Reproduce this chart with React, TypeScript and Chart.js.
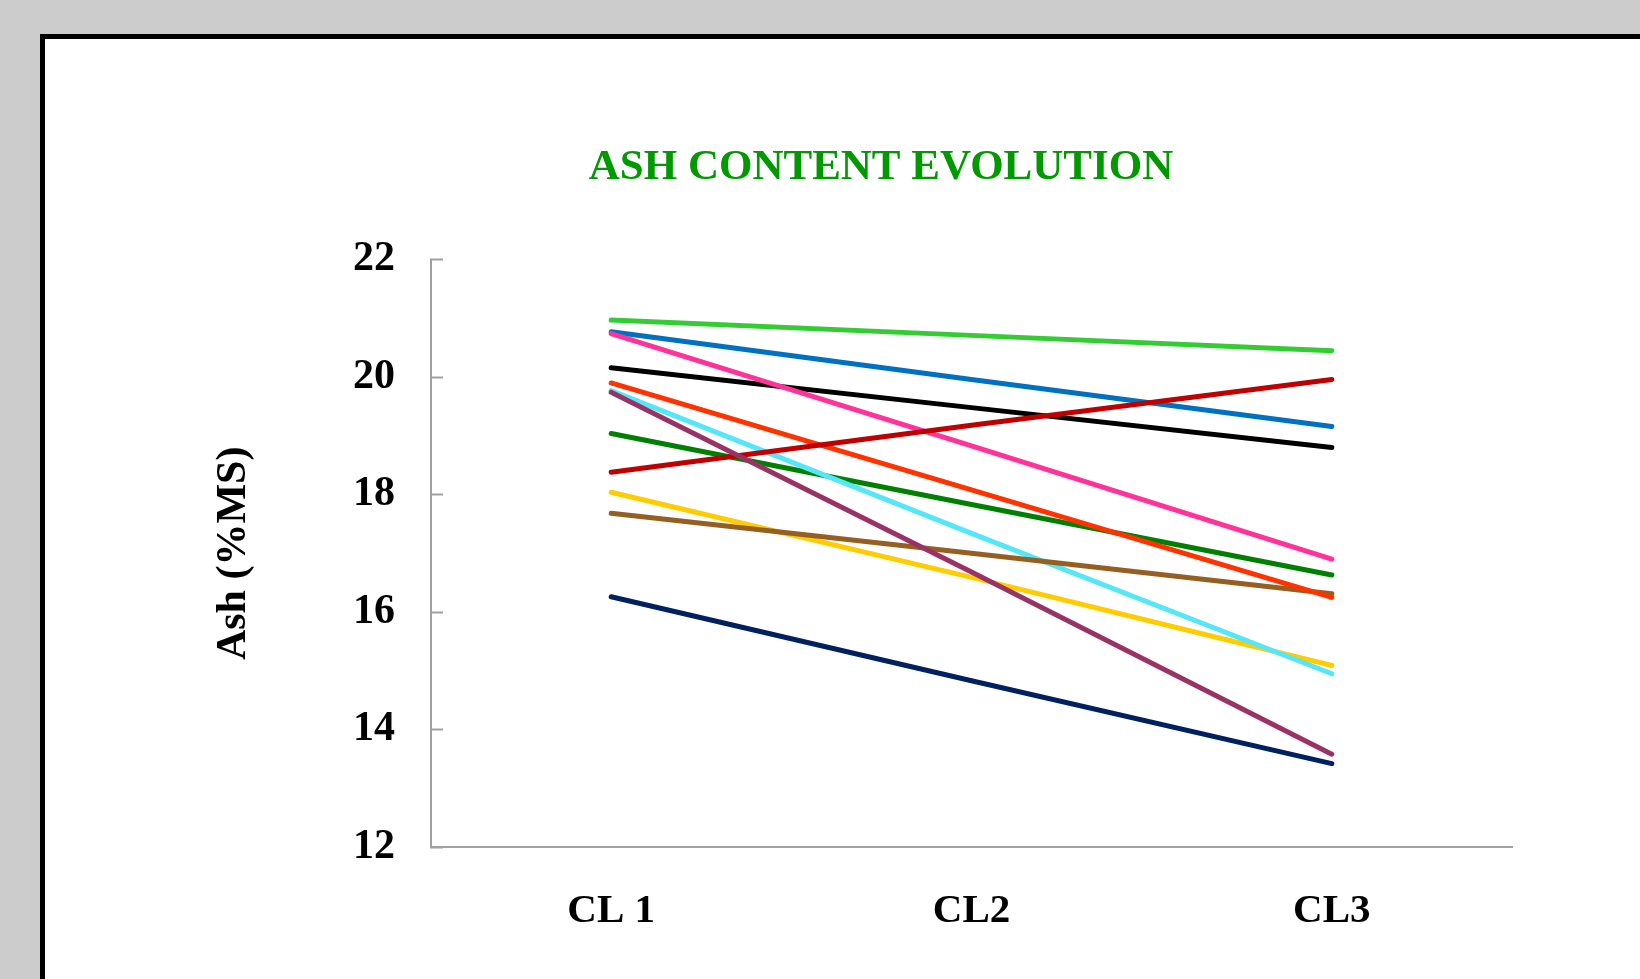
import React, { useEffect, useRef } from "react";
import { Chart, registerables } from "chart.js";

Chart.register(...registerables);

const categories = ["CL 1", "CL2", "CL3"];
const yTickValues = [12, 14, 16, 18, 20, 22];

const seriesLightGreen = [20.97, 20.71, 20.45];
const seriesBlue = [20.77, 19.96, 19.16];
const seriesPink = [20.74, 18.83, 16.9];
const seriesBlack = [20.16, 19.48, 18.8];
const seriesRedOrange = [19.9, 18.08, 16.25];
const seriesCyan = [19.77, 17.34, 14.95];
const seriesPurple = [19.74, 16.68, 13.58];
const seriesGreen = [19.04, 17.83, 16.63];
const seriesDarkRed = [18.38, 19.18, 19.96];
const seriesYellow = [18.04, 16.59, 15.09];
const seriesBrown = [17.68, 17.0, 16.31];
const seriesNavy = [16.26, 14.83, 13.42];

// drawn top-first (Chart.js draws dataset 0 on top)
const seriesList = [
  { label: "Série 7", data: seriesPurple, color: "#993366" },
  { label: "Série 9", data: seriesDarkRed, color: "#C00000" },
  { label: "Série 5", data: seriesRedOrange, color: "#FF3300" },
  { label: "Série 11", data: seriesBrown, color: "#955F22" },
  { label: "Série 6", data: seriesCyan, color: "#55E6F7" },
  { label: "Série 10", data: seriesYellow, color: "#FFCC00" },
  { label: "Série 8", data: seriesGreen, color: "#008000" },
  { label: "Série 3", data: seriesPink, color: "#FF3399" },
  { label: "Série 4", data: seriesBlack, color: "#000000" },
  { label: "Série 2", data: seriesBlue, color: "#0070C0" },
  { label: "Série 1", data: seriesLightGreen, color: "#33CC33" },
  { label: "Série 12", data: seriesNavy, color: "#002060" },
];

const SERIF = '"Liberation Serif", "Times New Roman", serif';

export default function App() {
  const ref = useRef<HTMLCanvasElement>(null);

  useEffect(() => {
    const canvas = ref.current;
    if (!canvas) return;
    const chart = new Chart(canvas, {
      type: "line",
      data: {
        labels: categories,
        datasets: seriesList.map((s) => ({
          label: s.label,
          data: s.data,
          borderColor: s.color,
          backgroundColor: s.color,
          borderWidth: 5,
          borderCapStyle: "round",
          borderJoinStyle: "round",
          pointRadius: 0,
          tension: 0,
          fill: false,
        })),
      },
      options: {
        animation: false,
        responsive: false,
        devicePixelRatio: 1,
        layout: { padding: { left: 250, right: 128, top: 0, bottom: 0 } },
        plugins: {
          legend: { display: false },
          tooltip: { enabled: false },
          title: {
            display: true,
            text: "ASH CONTENT EVOLUTION",
            color: "#009900",
            font: { family: SERIF, size: 43, weight: "bold" },
            padding: { top: 142, bottom: 66 },
          },
        },
        scales: {
          x: {
            type: "category",
            offset: true,
            grid: { display: false, drawTicks: false },
            border: { display: true, color: "#a0a0a0", width: 2 },
            ticks: {
              color: "#000",
              padding: 40,
              font: { family: SERIF, size: 41, weight: "bold" },
            },
            afterFit: (s: any) => {
              s.height = 132;
            },
          },
          y: {
            min: 12,
            max: 22,
            afterBuildTicks: (s: any) => {
              s.ticks = yTickValues.map((v) => ({ value: v }));
            },
            grid: {
              drawOnChartArea: false,
              drawTicks: true,
              tickLength: -12,
              tickColor: "#a0a0a0",
              tickWidth: 2,
            },
            border: { display: true, color: "#a0a0a0", width: 2 },
            ticks: {
              color: "#000",
              padding: 48,
              font: { family: SERIF, size: 42, weight: "bold" },
            },
            title: {
              display: true,
              text: "Ash (%MS)",
              color: "#000",
              font: { family: SERIF, size: 42, weight: "bold" },
              padding: { top: -41, bottom: 0 },
            },
            afterFit: (s: any) => {
              s.width = 181;
            },
          },
        },
      },
    } as any);
    return () => chart.destroy();
  }, []);

  return (
    <div
      style={{
        position: "fixed",
        left: 0,
        top: 0,
        width: 1640,
        height: 979,
        background: "#cccccc",
        overflow: "hidden",
      }}
    >
      <div
        style={{
          position: "absolute",
          left: 40,
          top: 34,
          width: 1700,
          height: 1100,
          background: "#ffffff",
          border: "5px solid #000000",
        }}
      />
      <canvas
        ref={ref}
        width={1640}
        height={979}
        style={{ position: "absolute", left: 0, top: 0, width: 1640, height: 979 }}
      />
    </div>
  );
}
